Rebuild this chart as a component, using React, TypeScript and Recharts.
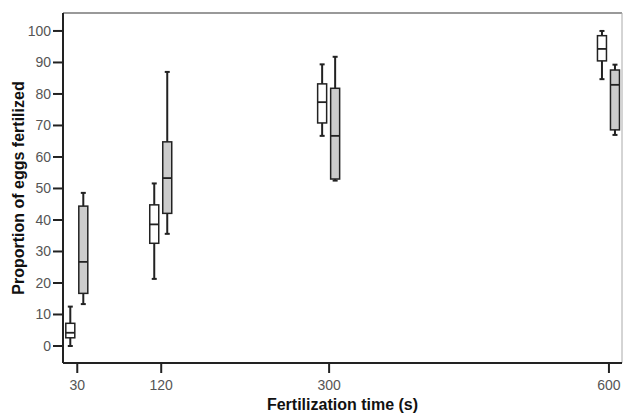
import React from 'react'
import { ComposedChart, Bar, XAxis, YAxis, ReferenceLine } from 'recharts'

// Fertilization time (s) groups
const times = [30, 120, 300, 600]

// open (white) boxes
const openMin = [0, 21.3, 66.7, 84.7]
const openQ1 = [2.6, 32.6, 70.8, 90.5]
const openMed = [4.2, 38.6, 77.4, 94.3]
const openQ3 = [7.2, 44.8, 83.2, 98.5]
const openMax = [12.5, 51.6, 89.4, 100]

// shaded (grey) boxes
const shadedMin = [13.3, 35.6, 52.5, 67.0]
const shadedQ1 = [16.7, 42.1, 53.0, 68.6]
const shadedMed = [26.7, 53.3, 66.7, 82.9]
const shadedQ3 = [44.4, 64.8, 81.8, 87.6]
const shadedMax = [48.6, 87.0, 91.8, 89.3]

const xTicks = [30, 120, 300, 600]
const yTicks = [0, 10, 20, 30, 40, 50, 60, 70, 80, 90, 100]

const FONT = '"Liberation Sans", Arial, sans-serif'
const INK = '#222'

const rows = times.map((t, i) => ({
  time: t,
  open: { min: openMin[i], q1: openQ1[i], med: openMed[i], q3: openQ3[i], max: openMax[i] },
  shaded: { min: shadedMin[i], q1: shadedQ1[i], med: shadedMed[i], q3: shadedQ3[i], max: shadedMax[i] },
}))

// The bar spans min..max, so its geometry gives the y scale for the other stats
const makeBox = (key: 'open' | 'shaded', fill: string) => (props: any) => {
  const { x, y, width, height, payload } = props
  const s = payload[key]
  const k = height / (s.max - s.min)
  const py = (v: number) => y + (s.max - v) * k
  const cx = x + width / 2
  return (
    <g>
      <line x1={cx} x2={cx} y1={py(s.max)} y2={py(s.min)} stroke={INK} strokeWidth={2} />
      <line x1={cx - 2.5} x2={cx + 2.5} y1={py(s.max)} y2={py(s.max)} stroke={INK} strokeWidth={2} />
      <line x1={cx - 2.5} x2={cx + 2.5} y1={py(s.min)} y2={py(s.min)} stroke={INK} strokeWidth={2} />
      <rect
        x={x + 0.5}
        y={py(s.q3)}
        width={width - 1}
        height={py(s.q1) - py(s.q3)}
        fill={fill}
        stroke={INK}
        strokeWidth={1.5}
      />
      <line x1={x + 0.5} x2={x + width - 0.5} y1={py(s.med)} y2={py(s.med)} stroke={INK} strokeWidth={1.8} />
    </g>
  )
}

const YTitle = (props: any) => {
  const { viewBox } = props
  const x = viewBox.x + 23.5
  const y = viewBox.y + viewBox.height / 2
  return (
    <text x={x} y={y} transform={`rotate(-90, ${x}, ${y})`} textAnchor="middle"
      fontFamily={FONT} fontSize={16} fontWeight="bold" fill="#111">
      Proportion of eggs fertilized
    </text>
  )
}

const XTitle = (props: any) => {
  const { viewBox } = props
  return (
    <text x={viewBox.x + viewBox.width / 2} y={viewBox.y + 46.5} textAnchor="middle"
      fontFamily={FONT} fontSize={16} fontWeight="bold" fill="#111">
      Fertilization time (s)
    </text>
  )
}

export default function App() {
  const tickStyle = { fontFamily: FONT, fontSize: 14, fill: '#555' }
  return (
    <div style={{ position: 'absolute', left: 0, top: 0, background: '#fff' }}>
      <ComposedChart
        width={623}
        height={415}
        data={rows}
        margin={{ top: 13, right: 1, left: 0, bottom: 0 }}
        barSize={10}
        barGap={3}
      >
        <XAxis
          dataKey="time"
          type="number"
          domain={[14.7, 614]}
          allowDataOverflow
          ticks={xTicks}
          height={52}
          tickSize={10}
          tickMargin={7}
          tick={tickStyle}
          axisLine={{ stroke: INK, strokeWidth: 2 }}
          tickLine={{ stroke: INK, strokeWidth: 2 }}
          label={<XTitle />}
        />
        <YAxis
          type="number"
          domain={[-5.4, 105.7]}
          allowDataOverflow
          ticks={yTicks}
          width={63}
          tickSize={10}
          tickMargin={2}
          tick={tickStyle}
          axisLine={{ stroke: INK, strokeWidth: 2 }}
          tickLine={{ stroke: INK, strokeWidth: 2 }}
          label={<YTitle />}
        />
        <ReferenceLine y={105.7} stroke="#777" strokeWidth={1.5} ifOverflow="extendDomain" />
        <ReferenceLine x={614} stroke="#aaa" strokeWidth={1} ifOverflow="extendDomain" />
        <Bar
          dataKey={(d: any) => [d.open.min, d.open.max]}
          shape={makeBox('open', '#ffffff')}
          isAnimationActive={false}
        />
        <Bar
          dataKey={(d: any) => [d.shaded.min, d.shaded.max]}
          shape={makeBox('shaded', '#cccccc')}
          isAnimationActive={false}
        />
      </ComposedChart>
    </div>
  )
}
